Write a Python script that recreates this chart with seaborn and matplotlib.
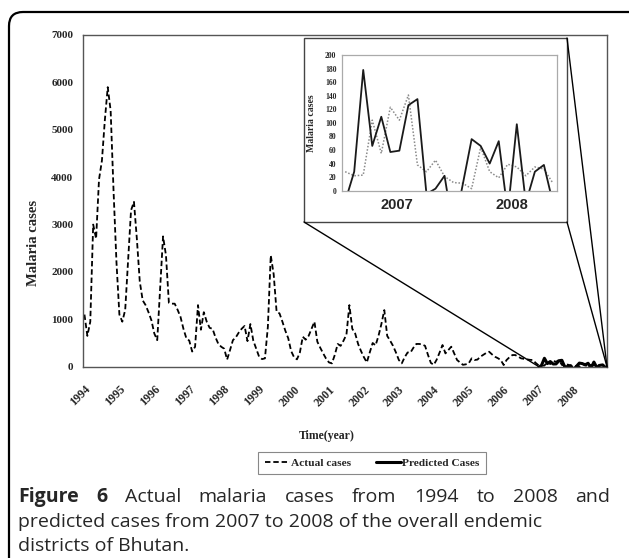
import numpy as np
import pandas as pd
import seaborn as sns
import matplotlib.pyplot as plt
from matplotlib.patches import FancyBboxPatch, Rectangle, ConnectionPatch
from matplotlib.transforms import IdentityTransform, ScaledTranslation

# ---- data (monthly malaria cases) ----
years = list(range(1994, 2009))
actual_cases = [
    # 1994
    1100, 650, 950, 3000, 2700, 3950, 4350, 5200, 5900, 5400, 3700, 2200,
    # 1995
    1100, 950, 1200, 2250, 3300, 3480, 2700, 1800, 1400, 1300, 1150, 980,
    # 1996
    700, 560, 1650, 2750, 2350, 1350, 1330, 1330, 1200, 1050, 800, 600,
    # 1997
    550, 320, 420, 1300, 780, 1150, 950, 820, 800, 620, 480, 420,
    # 1998
    380, 150, 350, 560, 620, 720, 800, 860, 540, 900, 550, 380,
    # 1999
    210, 160, 176, 840, 2350, 1950, 1160, 1125, 950, 760, 600, 330,
    # 2000
    200, 155, 300, 633, 570, 650, 800, 949, 527, 400, 281, 170,
    # 2001
    90, 70, 250, 480, 440, 550, 680, 1300, 800, 700, 480, 330,
    # 2002
    200, 90, 300, 500, 450, 650, 900, 1195, 650, 550, 440, 300,
    # 2003
    141, 70, 200, 300, 300, 400, 480, 480, 470, 440, 250, 80,
    # 2004
    40, 150, 300, 457, 281, 350, 422, 280, 141, 90, 40, 50,
    # 2005
    70, 176, 141, 150, 211, 250, 290, 316, 260, 211, 180, 141,
    # 2006
    35, 141, 200, 246, 246, 210, 176, 165, 155, 145, 141, 80,
    # 2007
    28, 22, 23, 104, 55, 123, 104, 141, 38, 28, 45, 21,
    # 2008
    12, 11, 3, 64, 28, 19, 39, 35, 22, 35, 32, 11,
]
predicted_cases = [-16, 28, 178, 66, 109, 57, 59, 126, 135, -5, 3, 22,
                   -60, 8, 76, 66, 40, 73, -32, 98, -18, 28, 38, -18]
inset_labels = ['2007', '2008']

W, H = 629, 558


def fx(px):
    return px / W


def fy(py):
    return 1 - py / H


sns.set_style("white")
plt.rcParams['font.family'] = ['Liberation Serif', 'DejaVu Serif']

fig = plt.figure(figsize=(W / 100, H / 100), dpi=100)

# outer rounded frame of the figure panel
frame = FancyBboxPatch((9, -30), 660, H - 12 + 30,
                       boxstyle='round,pad=0,rounding_size=14',
                       transform=IdentityTransform(), facecolor='none',
                       edgecolor='black', linewidth=1.6)
fig.add_artist(frame)

# ---- main chart ----
ax = fig.add_axes([fx(83), fy(366.7), fx(607) - fx(83), (366.7 - 35) / H])
ax.set_zorder(0)

df_actual = pd.DataFrame({
    't': 1994 + (np.arange(len(actual_cases)) + 0.5) / 12,
    'cases': actual_cases,
})
df_pred = pd.DataFrame({
    't': 2007 + (np.arange(len(predicted_cases)) + 0.5) / 12,
    'cases': predicted_cases,
})

sns.lineplot(data=df_actual, x='t', y='cases', ax=ax, color='black',
             linewidth=1.3, linestyle=(0, (3, 1.6)), label='Actual cases')
sns.lineplot(data=df_pred, x='t', y='cases', ax=ax, color='black',
             linewidth=2.2, label='Predicted Cases')

ax.set_xlim(1994, 2009)
ax.set_ylim(0, 7000)
ax.set_xticks(years)
ax.set_xticklabels([str(y) for y in years], rotation=45, ha='right',
                   va='top', rotation_mode='anchor')
ax.set_yticks(range(0, 7001, 1000))
for spine in ax.spines.values():
    spine.set_color('#555555')
    spine.set_linewidth(1.0)
ax.tick_params(axis='both', direction='out', length=3, width=0.8,
               color='#555555', labelsize=8, pad=4)
ax.tick_params(axis='x', labelsize=8.5)
for lab in ax.get_xticklabels() + ax.get_yticklabels():
    lab.set_fontweight('bold')
for lab in ax.get_xticklabels():
    lab.set_transform(lab.get_transform() +
                      ScaledTranslation(1 / 100, -7 / 100, fig.dpi_scale_trans))

ax.set_xlabel('Time(year)', fontsize=8.5, fontweight='bold')
ax.xaxis.set_label_coords((327 - 83) / 524, -(430 - 366.7) / 331.7)
ax.set_ylabel('Malaria cases', fontsize=10.5, fontweight='bold')
ax.yaxis.set_label_coords((40 - 83) / 524, (366.7 - 243) / 331.7)

handles, labels = ax.get_legend_handles_labels()
ax.get_legend().remove()
leg = fig.legend(handles, labels, loc='center', ncol=2,
                 bbox_to_anchor=(fx(372), fy(463)), frameon=True,
                 fancybox=False, edgecolor='#888888', framealpha=1,
                 prop={'family': 'Liberation Serif', 'weight': 'bold',
                       'size': 8.2},
                 handlelength=2.2, handletextpad=0.1, columnspacing=2.2,
                 borderpad=0.55)
leg.get_frame().set_linewidth(0.8)

# ---- inset box with zoomed 2007-2008 ----
box = Rectangle((fx(304), fy(222)), fx(567) - fx(304), (222 - 38) / H,
                transform=fig.transFigure, facecolor='white',
                edgecolor='#444444', linewidth=1.0, zorder=1)
fig.add_artist(box)

corners = [((304, 222), (2007.05, 0)), ((567, 38), (2009, 0)),
           ((567, 222), (2009, 0))]
for (px, py), xy_data in corners:
    con = ConnectionPatch(xyA=(fx(px), fy(py)), coordsA=fig.transFigure,
                          xyB=xy_data, coordsB=ax.transData,
                          color='black', linewidth=1.0, zorder=1)
    fig.add_artist(con)

ax_in = fig.add_axes([fx(342), fy(190.7), fx(557) - fx(342),
                      (190.7 - 55) / H])
ax_in.set_zorder(2)

df_in = pd.DataFrame({
    'month': np.arange(24),
    'actual': actual_cases[-24:],
    'predicted': predicted_cases,
})
sns.lineplot(data=df_in, x='month', y='actual', ax=ax_in, color='#8a8a8a',
             linewidth=1.1, linestyle=(0, (1, 1.2)))
sns.lineplot(data=df_in, x='month', y='predicted', ax=ax_in, color='#1a1a1a',
             linewidth=1.3)

ax_in.set_xlim(-0.35, 23.45)
ax_in.set_ylim(0, 200)
ax_in.set_yticks(range(0, 201, 20))
ax_in.set_xticks([5.7, 18.4])
ax_in.set_xticklabels(inset_labels, family='Liberation Sans',
                      fontweight='bold', fontsize=10.5)
ax_in.tick_params(axis='x', length=0, pad=5)
ax_in.tick_params(axis='y', length=2, width=0.6, labelsize=5.5, pad=2,
                  color='#aaaaaa')
for lab in ax_in.get_yticklabels():
    lab.set_fontweight('bold')
ax_in.set_xlabel('')
ax_in.set_ylabel('Malaria cases', fontsize=7, fontweight='bold')
ax_in.yaxis.set_label_coords((316 - 342) / 215, 0.5)
for spine in ax_in.spines.values():
    spine.set_color('#aaaaaa')
    spine.set_linewidth(0.9)

# ---- caption (first line justified) ----
cap_font = dict(family='Open Sans', size=14)
line1 = [('Figure', 'bold'), ('6', 'bold'), ('Actual', 'normal'),
         ('malaria', 'normal'), ('cases', 'normal'), ('from', 'normal'),
         ('1994', 'normal'), ('to', 'normal'), ('2008', 'normal'),
         ('and', 'normal')]
fig.canvas.draw()
renderer = fig.canvas.get_renderer()
words = []
for word, weight in line1:
    t = fig.text(0, fy(502), word, fontweight=weight, va='baseline',
                 ha='left', **cap_font)
    words.append(t)
widths = [t.get_window_extent(renderer).width for t in words]
x_left, x_right = 18, 610
gap = (x_right - x_left - sum(widths)) / (len(words) - 1)
xpos = x_left
for t, w in zip(words, widths):
    t.set_x(fx(xpos))
    xpos += w + gap

fig.text(fx(18), fy(527),
         'predicted cases from 2007 to 2008 of the overall endemic',
         va='baseline', ha='left', **cap_font)
fig.text(fx(18), fy(551), 'districts of Bhutan.', va='baseline', ha='left',
         **cap_font)

fig.savefig('out.png', dpi=100)
